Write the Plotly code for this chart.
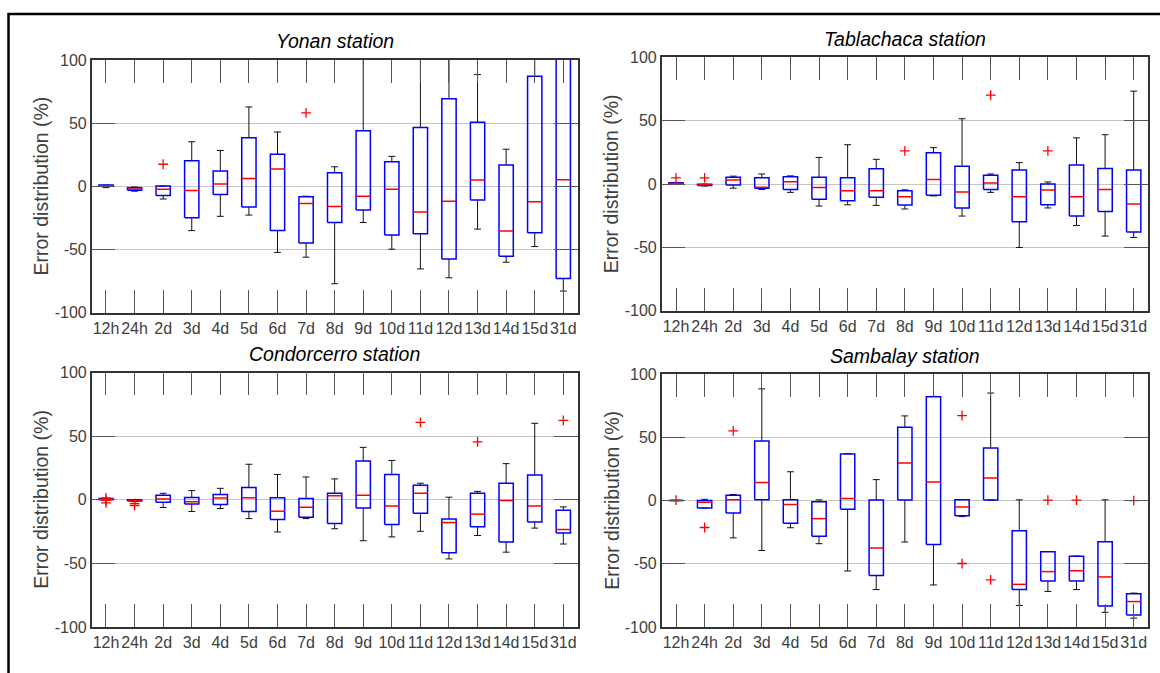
import plotly.graph_objects as go

W, H = 1160, 673

categories = ["12h", "24h", "2d", "3d", "4d", "5d", "6d", "7d", "8d", "9d",
              "10d", "11d", "12d", "13d", "14d", "15d", "31d"]
y_tick_vals = [-100, -50, 0, 50, 100]
y_tick_text = ["-100", "-50", "0", "50", "100"]

# ---- Yonan station ----
yonan_lo = [-1, -3.8, -10, -35, -23.7, -22.7, -52.2, -56, -77, -28.6, -49.7, -65.3, -72.3, -33.8, -60, -47.6, -82.8]
yonan_q1 = [0, -3.1, -7.2, -24.8, -6.5, -16.3, -35, -44.8, -28.6, -18.6, -38.4, -37.4, -57.4, -10.7, -55.3, -36.6, -72.8]
yonan_med = [0.5, -2.2, -2.3, -3.2, 1.9, 6.3, 13.7, -13.5, -16, -7.8, -2.2, -20.2, -11.7, 5, -35.3, -12.2, 5.3]
yonan_q3 = [1, -1, 0.3, 20.2, 12.2, 38.4, 25.5, -8.3, 10.7, 44, 19.4, 46.6, 69.4, 50.7, 17, 87.2, 120]
yonan_hi = [1, -0.5, 0.3, 35.3, 28.4, 62.8, 43, -7.8, 15.5, 110, 23.7, 110, 110, 88.4, 29.4, 110, 130]
yonan_out_cat = ["2d", "7d"]
yonan_out_val = [17.5, 58.2]

# ---- Tablachaca station ----
tabla_lo = [0, -1.5, -3.2, -4.2, -6.5, -17.3, -16.3, -16.8, -19.6, -9.3, -25.2, -6.5, -50, -18.8, -32.6, -41, -42.1]
tabla_q1 = [0, -1, -0.6, -3.2, -4.2, -11.9, -13.2, -10.4, -16.5, -8.8, -18.8, -4.2, -29.6, -16.3, -25.2, -21.6, -37.8]
tabla_med = [0.5, -0.5, 3.2, -2.4, 1.9, -2.7, -5.2, -5.2, -9.9, 3.7, -6.3, 0.9, -9.9, -4.7, -9.9, -4.2, -15.7]
tabla_q3 = [1, 0, 5.5, 5, 5.8, 5.5, 5, 12.2, -5.2, 24.7, 14.2, 7, 11.1, 0.1, 15.2, 12.4, 11.1]
tabla_hi = [1, 0, 6.3, 8, 6.5, 21.1, 31.1, 19.6, -4.5, 28.8, 51.6, 8, 17, 1.7, 36.5, 39, 73.4]
tabla_out_cat = ["12h", "24h", "8d", "11d", "13d"]
tabla_out_val = [5, 5, 26.2, 70.3, 26.2]

# ---- Condorcerro station ----
condo_lo = [0, -1.5, -6.1, -9.2, -6.9, -14.8, -25.3, -14.8, -22.8, -32.2, -29.2, -24.8, -46.5, -28.1, -41.2, -22.3, -34.8]
condo_q1 = [0, -1, -2, -3.3, -3.8, -9.2, -15.6, -13.8, -18.7, -6.4, -19.4, -10.7, -41.7, -21.2, -33.2, -17.4, -26.1]
condo_med = [0.5, -0.5, 0.5, -1.5, 1.3, 1.5, -9, -5.9, 3.1, 3.6, -4.9, 5.1, -17.9, -11.3, -0.5, -4.9, -23.3]
condo_q3 = [1, 0, 3.6, 1.8, 4.1, 9.7, 1.5, 1, 5.1, 30.4, 19.9, 11.5, -15.1, 5.1, 13, 19.4, -8.2]
condo_hi = [1, 0, 5.1, 7.2, 9, 27.9, 19.9, 17.9, 16.4, 41.2, 30.9, 13, 2, 6.6, 28.4, 60.1, -5.6]
condo_out_cat = ["12h", "12h", "12h", "24h", "24h", "11d", "13d", "31d"]
condo_out_val = [1.5, -0.5, -2.5, -3, -4.5, 60.9, 45.5, 62.4]

# ---- Sambalay station ----
samba_lo = [0, -5.9, -29.5, -39.5, -21.5, -34.1, -55.7, -70.4, -32.8, -66.8, -12.7, 0.4, -83, -71.9, -70.4, -88.4, -93]
samba_q1 = [0, -5.9, -9.9, 0.6, -17.9, -28.2, -6.8, -59.3, 0.4, -34.7, -12, 0.4, -70.4, -63.7, -63.7, -83.5, -90.5]
samba_med = [0, -1.3, 0.6, 14.3, -3, -14.3, 1.7, -37.5, 29.7, 14.8, -5, 17.9, -66.3, -56.2, -55.5, -60.4, -79.9]
samba_q3 = [0, 0, 4.2, 47.2, 0.6, -0.9, 36.9, 0.4, 58, 82.2, 0.6, 41.6, -23.8, -40.5, -44.1, -32.6, -73.8]
samba_hi = [0, 1, 4.8, 88.4, 22.8, 0.6, 37.2, 16.6, 67, 82.5, 0.9, 85.1, 0.6, -40.3, -43.9, 0.6, -73.2]
samba_out_cat = ["12h", "24h", "2d", "10d", "10d", "11d", "13d", "14d", "31d"]
samba_out_val = [0.3, -21.3, 55.2, 67.3, -49.8, -62.7, 0.4, 0.4, 0]

stations = [
    ("Yonan station", yonan_lo, yonan_q1, yonan_med, yonan_q3, yonan_hi, yonan_out_cat, yonan_out_val),
    ("Tablachaca station", tabla_lo, tabla_q1, tabla_med, tabla_q3, tabla_hi, tabla_out_cat, tabla_out_val),
    ("Condorcerro station", condo_lo, condo_q1, condo_med, condo_q3, condo_hi, condo_out_cat, condo_out_val),
    ("Sambalay station", samba_lo, samba_q1, samba_med, samba_q3, samba_hi, samba_out_cat, samba_out_val),
]

# plot-area pixel boxes: (left, right, top, bottom)
areas = [(91.7, 577.6, 53.3, 312.7), (661.7, 1148, 50.7, 310.7),
         (91.7, 577.6, 374, 635), (661.7, 1148, 375.7, 635)]
title_y = [34, 31.7, 354.7, 357]

BOX_HW = 0.25
CAP_HW = 0.12

fig = go.Figure()
layout = dict(width=W, height=H, margin=dict(l=0, r=0, t=0, b=0),
              paper_bgcolor="white", plot_bgcolor="white", showlegend=False,
              font=dict(family="Liberation Sans, Arial, sans-serif", color="#404040"))
annotations = []
pos = list(range(1, len(categories) + 1))
cat_pos = {c: p for c, p in zip(categories, pos)}

for k, (name, lo, q1, med, q3, hi, ocat, oval) in enumerate(stations):
    xa = "x" if k == 0 else f"x{k+1}"
    ya = "y" if k == 0 else f"y{k+1}"
    L, R, T, B = areas[k]
    # whiskers + caps
    wx, wy = [], []
    for p, a, b, c, d in zip(pos, lo, q1, q3, hi):
        wx += [p, p, None, p, p, None, p - CAP_HW, p + CAP_HW, None, p - CAP_HW, p + CAP_HW, None]
        wy += [a, b, None, c, d, None, a, a, None, d, d, None]
    fig.add_trace(go.Scatter(x=wx, y=wy, mode="lines", line=dict(color="#111", width=1),
                             xaxis=xa, yaxis=ya, hoverinfo="skip"))
    # boxes
    bx, by = [], []
    for p, b, c in zip(pos, q1, q3):
        bx += [p - BOX_HW, p + BOX_HW, p + BOX_HW, p - BOX_HW, p - BOX_HW, None]
        by += [b, b, c, c, b, None]
    fig.add_trace(go.Scatter(x=bx, y=by, mode="lines", line=dict(color="#0000ff", width=1.5),
                             xaxis=xa, yaxis=ya, hoverinfo="skip"))
    # medians
    mx, my = [], []
    for p, m in zip(pos, med):
        mx += [p - BOX_HW, p + BOX_HW, None]
        my += [m, m, None]
    fig.add_trace(go.Scatter(x=mx, y=my, mode="lines", line=dict(color="#ff0000", width=1.5),
                             xaxis=xa, yaxis=ya, hoverinfo="skip"))
    # outliers
    fig.add_trace(go.Scatter(x=[cat_pos[c] for c in ocat], y=oval, mode="markers",
                             marker=dict(symbol="cross-thin", size=7, line=dict(color="#ff0000", width=1.3)),
                             xaxis=xa, yaxis=ya, hoverinfo="skip"))

    xkey = "xaxis" if k == 0 else f"xaxis{k+1}"
    ykey = "yaxis" if k == 0 else f"yaxis{k+1}"
    layout[xkey] = dict(domain=[L / W, R / W], anchor=ya, range=[0.5, len(categories) + 0.5],
                        tickmode="array", tickvals=pos, ticktext=categories, tickangle=0,
                        ticks="inside", ticklen=23, tickwidth=1, tickcolor="#555",
                        showline=True, linecolor="#333", linewidth=1.5, mirror="ticks",
                        showgrid=False, zeroline=False,
                        tickfont=dict(size=16, color="#404040"), fixedrange=True)
    layout[ykey] = dict(domain=[1 - B / H, 1 - T / H], anchor=xa, range=[-100, 100],
                        tickmode="array", tickvals=y_tick_vals, ticktext=y_tick_text,
                        ticks="inside", ticklen=24, tickwidth=1, tickcolor="#555",
                        showline=True, linecolor="#333", linewidth=1.5, mirror="ticks",
                        showgrid=True, gridcolor="#c4c4c4", gridwidth=1, zeroline=False,
                        tickfont=dict(size=16, color="#404040"), fixedrange=True)
    annotations.append(dict(text=f"<i>{name}</i>", x=(L + R) / 2 / W, y=1 - title_y[k] / H,
                            xref="paper", yref="paper", xanchor="center", yanchor="middle",
                            showarrow=False, font=dict(size=19.5, color="black")))
    annotations.append(dict(text="Error distribution (%)", x=(L - 50.6) / W, y=1 - (T + B) / 2 / H,
                            xref="paper", yref="paper", xanchor="center", yanchor="middle",
                            textangle=-90, showarrow=False, font=dict(size=19.5, color="#404040")))

layout["annotations"] = annotations
layout["shapes"] = [dict(type="rect", xref="paper", yref="paper",
                         x0=8.5 / W, x1=1.05, y0=-0.05, y1=1 - 6.2 / H,
                         line=dict(color="black", width=2.5))]
fig.update_layout(**layout)
fig.write_html("out.html", config={"displayModeBar": False},
               post_script="document.body.style.margin='0';document.body.style.overflow='hidden';")
